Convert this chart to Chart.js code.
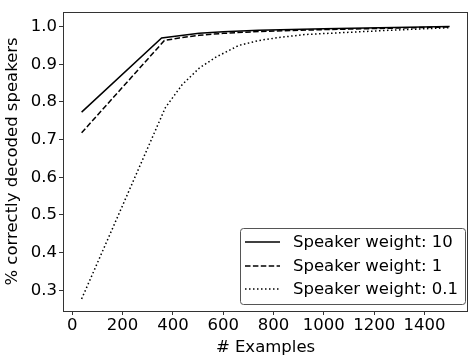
<!DOCTYPE html>
<html>
<head>
<meta charset="utf-8">
<script src="https://cdn.jsdelivr.net/npm/chart.js@4/dist/chart.umd.min.js"></script>
<style>
  html, body { margin: 0; padding: 0; background: #fff; }
  #wrap { width: 469px; height: 356px; }
</style>
</head>
<body>
<div id="wrap"><canvas id="chart" width="469" height="356"></canvas></div>
<script>
// series data
const labels = ["Speaker weight: 10", "Speaker weight: 1", "Speaker weight: 0.1"];
const xW10 = [37, 355, 425, 504, 600, 741, 1000, 1500];
const yW10 = [0.773, 0.970, 0.976, 0.9825, 0.986, 0.99, 0.994, 1.0];
const xW1 = [37, 366, 425, 504, 600, 741, 1000, 1500];
const yW1 = [0.718, 0.963, 0.970, 0.977, 0.982, 0.987, 0.992, 0.999];
const xW01 = [37, 205, 370, 437, 505, 571, 662, 741, 820, 927, 1254, 1500];
const yW01 = [0.277, 0.533, 0.785, 0.846, 0.89, 0.919, 0.95, 0.963, 0.971, 0.979, 0.99, 0.997];

// tick labels
const xTicks = [0, 200, 400, 600, 800, 1000, 1200, 1400];
const yTicks = [0.3, 0.4, 0.5, 0.6, 0.7, 0.8, 0.9, 1.0];

const FONT = "'DejaVu Sans', sans-serif";
const FS = 16.5;

function pts(xs, ys) {
  return xs.map((x, i) => ({ x: x, y: ys[i] }));
}

const dashes = [[], [5.5, 2.4], [1.5, 2.5]];

// caja del gráfico + leyenda dibujada a mano
const framePlugin = {
  id: "frame",
  afterDraw(chart) {
    const ctx = chart.ctx;
    const a = chart.chartArea;
    ctx.save();
    ctx.strokeStyle = "#333";
    ctx.lineWidth = 1;
    ctx.strokeRect(Math.round(a.left) + 0.5, Math.round(a.top) + 0.5,
      Math.round(a.right - a.left) - 1, Math.round(a.bottom - a.top));

    // legend box
    const bx = 240.5, by = 228.5, bw = 225, bh = 76;
    ctx.fillStyle = "rgba(255,255,255,0.9)";
    ctx.strokeStyle = "#555";
    ctx.beginPath();
    ctx.roundRect(bx, by, bw, bh, 3);
    ctx.fill();
    ctx.stroke();

    ctx.font = FS + "px " + FONT;
    ctx.textBaseline = "middle";
    ctx.fillStyle = "#000";
    const rows = [242, 266, 289];
    chart.data.datasets.forEach((ds, i) => {
      ctx.beginPath();
      ctx.setLineDash(ds.borderDash || []);
      ctx.lineWidth = 1.5;
      ctx.strokeStyle = "#000";
      ctx.moveTo(245, rows[i]);
      ctx.lineTo(280, rows[i]);
      ctx.stroke();
      ctx.setLineDash([]);
      ctx.fillText(ds.label, 293, rows[i] + 1);
    });
    ctx.restore();
  }
};

new Chart(document.getElementById("chart").getContext("2d"), {
  type: "line",
  data: {
    datasets: [
      { label: labels[0], data: pts(xW10, yW10), borderDash: dashes[0] },
      { label: labels[1], data: pts(xW1, yW1), borderDash: dashes[1] },
      { label: labels[2], data: pts(xW01, yW01), borderDash: dashes[2] }
    ].map(d => Object.assign(d, {
      borderColor: "#000",
      borderWidth: 1.5,
      pointRadius: 0,
      tension: 0,
      fill: false
    }))
  },
  options: {
    responsive: false,
    animation: false,
    layout: { padding: { top: 6, right: 1, left: 0, bottom: 0 } },
    plugins: {
      legend: { display: false },
      tooltip: { enabled: false }
    },
    scales: {
      x: {
        type: "linear",
        min: -37,
        max: 1573,
        afterBuildTicks: s => { s.ticks = xTicks.map(v => ({ value: v })); },
        afterFit: s => { s.height = 45; },
        grid: { drawOnChartArea: false, tickLength: 4, tickColor: "#333", color: "#333" },
        border: { display: false },
        ticks: { color: "#000", font: { family: FONT, size: FS }, padding: 1, maxRotation: 0, autoSkip: false, callback: v => String(v) },
        title: { display: true, text: "# Examples", color: "#000", font: { family: FONT, size: FS, lineHeight: 1 }, padding: { top: 0, bottom: 0 } }
      },
      y: {
        type: "linear",
        min: 0.245,
        max: 1.039,
        afterBuildTicks: s => { s.ticks = yTicks.map(v => ({ value: v })); },
        afterFit: s => { s.width = 63; },
        grid: { drawOnChartArea: false, tickLength: 4, tickColor: "#333", color: "#333" },
        border: { display: false },
        ticks: { color: "#000", font: { family: FONT, size: FS }, padding: 2, autoSkip: false, callback: v => v.toFixed(1) },
        title: { display: true, text: "% correctly decoded speakers", color: "#000", font: { family: FONT, size: FS }, padding: { top: 3, bottom: 2 } }
      }
    }
  },
  plugins: [framePlugin]
});
</script>
</body>
</html>
